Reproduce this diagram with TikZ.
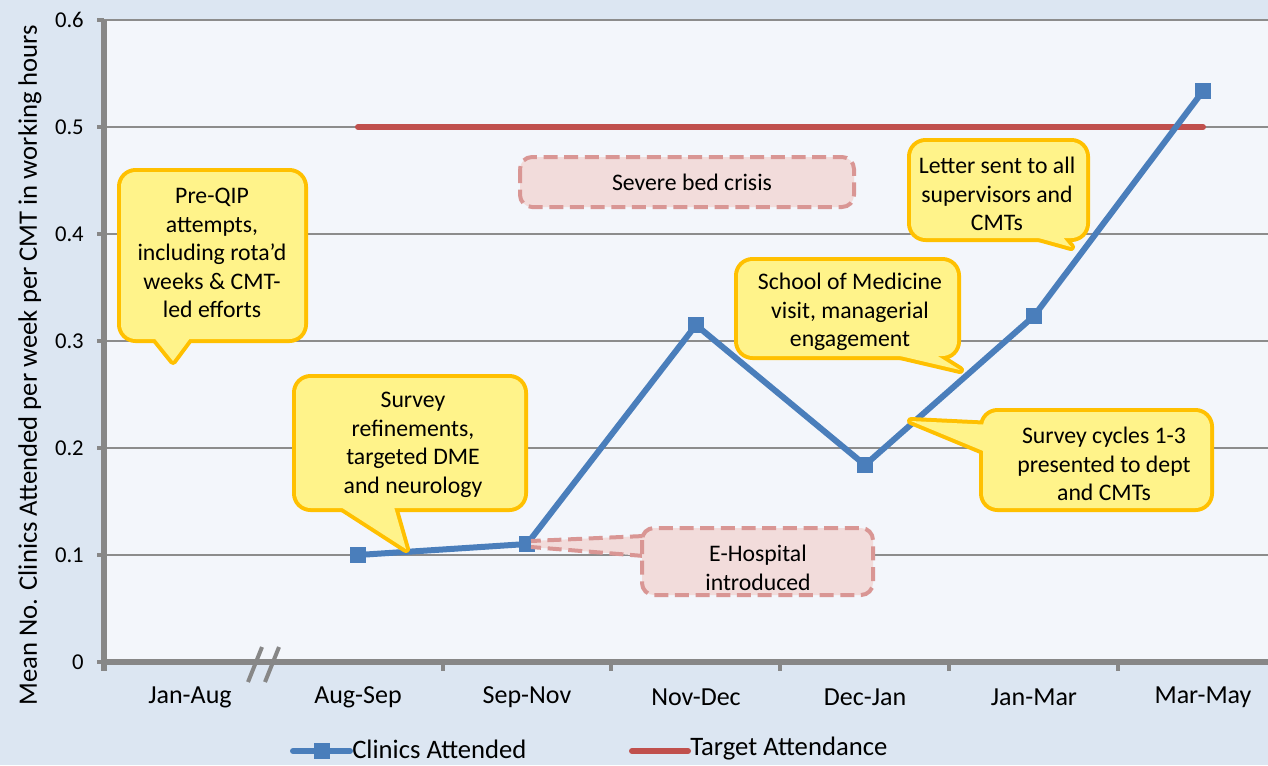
\documentclass[tikz,border=0pt]{standalone}
\usepackage{fontspec}
\setmainfont{Carlito}
\definecolor{outerbg}{HTML}{DCE6F2}
\definecolor{plotbg}{HTML}{F3F6FB}
\definecolor{gridc}{HTML}{8C8C8C}
\definecolor{axisc}{HTML}{878787}
\definecolor{serblue}{HTML}{4A7EBB}
\definecolor{tgtred}{HTML}{C0504D}
\definecolor{callfill}{HTML}{FFF38A}
\definecolor{callborder}{HTML}{FFC000}
\definecolor{pinkfill}{HTML}{F2DCDB}
\definecolor{pinkborder}{HTML}{D99694}
\newcommand\ycallout[5]{%
  \draw[callborder, line width=6pt, line join=round, rounded corners=11pt] (#1,#2) rectangle (#3,#4);
  \draw[callborder, line width=6pt, line join=round] #5 -- cycle;
  \fill[callfill, rounded corners=11pt] (#1,#2) rectangle (#3,#4);
  \fill[callfill] #5 -- cycle;
}
\tikzset{
  gridline/.style={draw=gridc, line width=1.5pt},
  axisline/.style={draw=axisc, line width=4.5pt},
  tickline/.style={draw=axisc, line width=3pt},
  series/.style={draw=serblue, line width=4.5pt, line join=round},
  target/.style={draw=tgtred, line width=4.5pt, line cap=round},
  marker/.style={rectangle, fill=serblue, minimum size=12pt, inner sep=0pt},
  calltext/.style={align=center, inner sep=0pt, font=\fontsize{17.8pt}{21.4pt}\selectfont},
  ytick/.style={anchor=east, inner sep=0pt, font=\fontsize{17pt}{20pt}\selectfont},
  xtick/.style={inner sep=0pt, font=\fontsize{19.5pt}{23pt}\selectfont},
  legtext/.style={anchor=west, inner sep=0pt, font=\fontsize{20pt}{24pt}\selectfont},
  pinkbox/.style={draw=pinkborder, fill=pinkfill, line width=3pt, dash pattern=on 10.5pt off 5pt, rounded corners=9pt},
  pinkwedge/.style={draw=pinkborder, line width=3pt, dash pattern=on 10.5pt off 5pt},
}
\begin{document}
\begin{tikzpicture}[x=0.75pt,y=-0.75pt]
\useasboundingbox (0,0) rectangle (1268,765);
\fill[outerbg] (0,0) rectangle (1268,765);
\fill[plotbg] (104,20) rectangle (1268,662);
% gridlines
\foreach \yy in {20,127,234,341,448,555} {
  \draw[gridline] (104,\yy) -- (1268,\yy);
}
% y axis
\coordinate (yaxtop) at (104,20);
\coordinate (yaxbot) at (104,671);
\draw[axisline] (yaxtop) -- (yaxbot);
\foreach \yy/\lab in {20/0.6,127/0.5,234/0.4,341/0.3,448/0.2,555/0.1,662/0} {
  \draw[tickline] (97,\yy) -- (104,\yy);
  \node[ytick] at (84,\yy) {\lab};
}
% x axis
\coordinate (xaxl) at (101,662);
\coordinate (xaxr) at (1268,662);
\draw[axisline] (xaxl) -- (xaxr);
\foreach \xx in {443,611,780,949,1118} {
  \draw[tickline] (\xx,662) -- (\xx,671);
}
\draw[axisline, line width=3pt] (248,682) -- (262,647);
\draw[axisline, line width=3pt] (265,682) -- (279,647);
\foreach \xx/\lab in {190/Jan-Aug,358/Aug-Sep,527/Sep-Nov,696/Nov-Dec,865/Dec-Jan,1034/Jan-Mar,1203/Mar-May} {
  \node[xtick] at (\xx,697) {\lab};
}
% axis title
\node[rotate=90, inner sep=0pt, font=\fontsize{20pt}{24pt}\selectfont] (ytitle) at (30,365) {Mean No. Clinics Attended per week per CMT in working hours};
% target line
\coordinate (t1) at (358,127);
\coordinate (t2) at (1203,127);
\draw[target] (t1) -- (t2);
% series
\coordinate (c1) at (358,555);
\coordinate (c2) at (527,544);
\coordinate (c3) at (696,325);
\coordinate (c4) at (865,465);
\coordinate (c5) at (1034,316);
\coordinate (c6) at (1203,91);
\draw[series] (c1) -- (c2) -- (c3) -- (c4) -- (c5) -- (c6);
\foreach \c in {c1,c2,c3,c4,c5,c6} { \node[marker] at (\c) {}; }
% E-Hospital callout
\fill[pinkfill] (531,541) -- (644,536) -- (644,556) -- (531,547) -- cycle;
\draw[pinkwedge] (644,536) -- (531,541);
\draw[pinkwedge] (644,556) -- (531,547);
\draw[pinkbox] (642,528) rectangle (873,595);
\node[calltext] (ehosp) at (758,568) {E-Hospital\\introduced};
% Severe bed crisis
\draw[pinkbox] (520,157) rectangle (854,207);
\node[calltext] (bedcrisis) at (692,182) {Severe bed crisis};
% Pre-QIP
\coordinate (preqiptip) at (173,361);
\ycallout{121}{172}{304}{339}{(148,330) -- (preqiptip) -- (196,330)}
\node[calltext] (preqip) at (212,253) {Pre-QIP\\attempts,\\including rota’d\\weeks \& CMT-\\led efforts};
% Survey refinements
\coordinate (surveytip) at (406,549);
\ycallout{296}{378}{524}{508}{(330,500) -- (surveytip) -- (392,500)}
\node[calltext] (survey) at (413,445) {Survey\\refinements,\\targeted DME\\and neurology};
% School of Medicine
\coordinate (schooltip) at (960,370);
\ycallout{738}{261}{957}{356}{(866,348) -- (schooltip) -- (925,348)}
\node[calltext] (school) at (850,312) {School of Medicine\\visit, managerial\\engagement};
% Letter sent
\coordinate (lettertip) at (1071,247);
\ycallout{911}{142}{1086}{238}{(1010,230) -- (lettertip) -- (1057,230)}
\node[calltext] (letter) at (997,194) {Letter sent to all\\supervisors and\\CMTs};
% Survey cycles
\coordinate (cyclestip) at (911,421);
\ycallout{983}{412}{1210}{508}{(993,425) -- (cyclestip) -- (993,455)}
\node[calltext] (cycles) at (1104,464) {Survey cycles 1-3\\presented to dept\\and CMTs};
% legend
\coordinate (lb1) at (293,751);
\coordinate (lb2) at (350,751);
\draw[series, line cap=round] (lb1) -- (lb2);
\node[marker, minimum size=12.5pt] (lbm) at (322,751) {};
\node[legtext] (lbt) at (352,749) {Clinics Attended};
\coordinate (lr1) at (632,751);
\coordinate (lr2) at (688,751);
\draw[target] (lr1) -- (lr2);
\node[legtext] (lrt) at (690,749) {Target Attendance};
\end{tikzpicture}
\end{document}
